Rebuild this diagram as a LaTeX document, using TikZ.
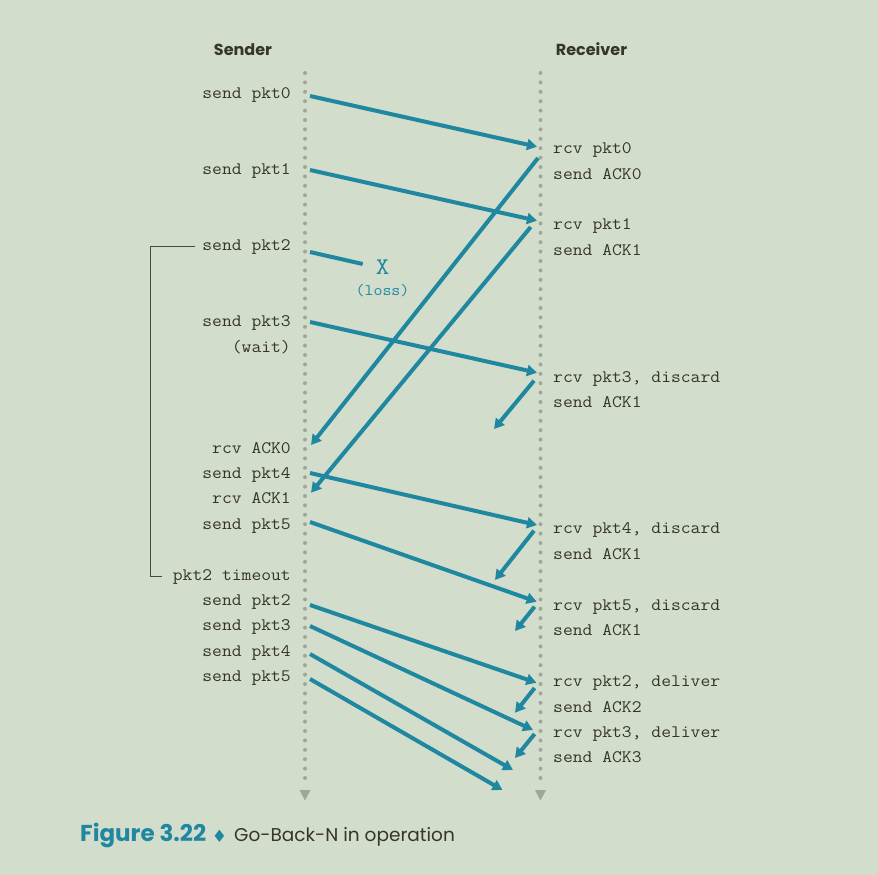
\documentclass[tikz,border=0pt]{standalone}
\usepackage{fontspec}
\setmonofont{Latin Modern Mono}[FakeStretch=1.09]
\newfontfamily\capfont{Poppins}
\newfontfamily\symfont{DejaVu Sans}
\usetikzlibrary{arrows.meta}
\definecolor{bgcol}{RGB}{210,221,203}
\definecolor{msgcol}{RGB}{31,135,160}
\definecolor{dotcol}{RGB}{160,166,155}
\definecolor{txtcol}{RGB}{55,52,42}

\begin{document}
\begin{tikzpicture}[x=1pt, y=-1pt,
    lbl/.style={font=\fontsize{17.5}{19}\ttfamily, text=txtcol, inner sep=0pt},
    sndlbl/.style={lbl, anchor=base east},
    rcvlbl/.style={lbl, anchor=base west},
    head/.style={font=\capfont\bfseries\fontsize{16}{19}\selectfont, text=txtcol,
                 inner sep=0pt, anchor=base},
    timeline/.style={dotcol, line width=4pt, line cap=round, dash pattern=on 0pt off 9.4pt},
    msg/.style={msgcol, line width=4pt, -{Triangle[length=10pt, width=11pt]}},
    bracket/.style={draw=txtcol!90, line width=1.3pt}
  ]
  \useasboundingbox (0,0) rectangle (878,875);
  \fill[bgcol] (0,0) rectangle (878,875);

  % headers and time lines
  \node[head] (sender) at (243,56) {Sender};
  \node[head] (receiver) at (591.5,56) {Receiver};
  \coordinate (stop) at (305,73);
  \coordinate (sbot) at (305,786);
  \coordinate (rtop) at (540.5,73);
  \coordinate (rbot) at (540.5,786);
  \draw[timeline] (stop) -- (sbot);
  \draw[timeline] (rtop) -- (rbot);
  \fill[dotcol] (299.5,790) -- (310.5,790) -- (305,800.5) -- cycle;
  \fill[dotcol] (535,790) -- (546,790) -- (540.5,800.5) -- cycle;

  % sender side
  \node[sndlbl] (snd0) at (291,98) {send pkt0};
  \node[sndlbl] (snd1) at (291,174) {send pkt1};
  \node[sndlbl] (snd2) at (291,250) {send pkt2};
  \node[sndlbl] (snd3) at (291,326) {send pkt3};
  \node[sndlbl] (wait) at (291,352) {(wait)};
  \node[sndlbl] (rack0) at (291,453) {rcv ACK0};
  \node[sndlbl] (snd4) at (291,478) {send pkt4};
  \node[sndlbl] (rack1) at (291,503) {rcv ACK1};
  \node[sndlbl] (snd5) at (291,529) {send pkt5};
  \node[sndlbl] (tmo) at (291,580) {pkt2 timeout};
  \node[sndlbl] (resnd2) at (291,605) {send pkt2};
  \node[sndlbl] (resnd3) at (291,630) {send pkt3};
  \node[sndlbl] (resnd4) at (291,656) {send pkt4};
  \node[sndlbl] (resnd5) at (291,681) {send pkt5};

  % receiver side
  \node[rcvlbl] (rcv0) at (553,153) {rcv pkt0};
  \node[rcvlbl] (sack0) at (553,179) {send ACK0};
  \node[rcvlbl] (rcv1) at (553,229) {rcv pkt1};
  \node[rcvlbl] (sack1) at (553,255) {send ACK1};
  \node[rcvlbl] (rcv3) at (553,382) {rcv pkt3, discard};
  \node[rcvlbl] (sack1a) at (553,407) {send ACK1};
  \node[rcvlbl] (rcv4) at (553,533) {rcv pkt4, discard};
  \node[rcvlbl] (sack1b) at (553,559) {send ACK1};
  \node[rcvlbl] (rcv5) at (553,610) {rcv pkt5, discard};
  \node[rcvlbl] (sack1c) at (553,635) {send ACK1};
  \node[rcvlbl] (rercv2) at (553,686) {rcv pkt2, deliver};
  \node[rcvlbl] (sack2) at (553,712) {send ACK2};
  \node[rcvlbl] (rercv3) at (553,737) {rcv pkt3, deliver};
  \node[rcvlbl] (sack3) at (553,762) {send ACK3};

  % loss
  \node[font=\fontsize{24}{26}\ttfamily, text=msgcol, inner sep=0pt] (lossx) at (382.5,267.5) {X};
  \node[font=\fontsize{16}{18}\ttfamily, text=msgcol, inner sep=0pt] (losstxt) at (382.5,291) {(loss)};

  % end points of the messages
  \coordinate (s0) at (310,96);
  \coordinate (s1) at (310,170);
  \coordinate (s2) at (310,252);
  \coordinate (s3) at (310,322);
  \coordinate (s4) at (310,473);
  \coordinate (s5) at (310,522);
  \coordinate (t2) at (310,605);
  \coordinate (t3) at (310,626);
  \coordinate (t4) at (310,654);
  \coordinate (t5) at (310,679);
  \coordinate (a0) at (311,445);
  \coordinate (a1) at (311,492.7);
  \coordinate (r0) at (537,146.7);
  \coordinate (r1) at (537,220.7);
  \coordinate (r3) at (537,372.7);
  \coordinate (r4) at (537,525);
  \coordinate (r5) at (536.7,601.7);
  \coordinate (q2) at (536.4,682.7);
  \coordinate (q3) at (533,730);
  \coordinate (q4) at (513,770);
  \coordinate (q5) at (502.5,790);
  \coordinate (lost) at (362.7,264);
  \coordinate (k0) at (538,158);
  \coordinate (k1) at (530.7,227);
  \coordinate (k3) at (534,380.7);
  \coordinate (k3e) at (494,429);
  \coordinate (k4) at (534,530.7);
  \coordinate (k4e) at (495,580);
  \coordinate (k5) at (534.6,606.7);
  \coordinate (k5e) at (515,631);
  \coordinate (k6) at (534.6,688);
  \coordinate (k6e) at (515,712.7);
  \coordinate (k7) at (534.6,734);
  \coordinate (k7e) at (515,758);

  % packets
  \draw[msg] (s0) -- (r0);
  \draw[msg] (s1) -- (r1);
  \draw[msgcol, line width=4pt] (s2) -- (lost);
  \draw[msg] (s3) -- (r3);
  \draw[msg] (s4) -- (r4);
  \draw[msg] (s5) -- (r5);
  \draw[msg] (t2) -- (q2);
  \draw[msg] (t3) -- (q3);
  \draw[msg] (t4) -- (q4);
  \draw[msg] (t5) -- (q5);

  % acks
  \draw[msg] (k0) -- (a0);
  \draw[msg] (k1) -- (a1);
  \draw[msg] (k3) -- (k3e);
  \draw[msg] (k4) -- (k4e);
  \draw[msg] (k5) -- (k5e);
  \draw[msg] (k6) -- (k6e);
  \draw[msg] (k7) -- (k7e);

  % timer bracket
  \draw[bracket] ([xshift=-7pt]snd2.west) -| ([xshift=-22pt]tmo.west) -- ([xshift=-11pt]tmo.west);

  % caption
  \node[font=\capfont\bfseries\fontsize{23}{26}\selectfont, text=msgcol, inner sep=0pt,
        anchor=base west] (figno) at (80,841) {Figure 3.22};
  \node[font=\symfont\fontsize{17}{19}\selectfont, text=msgcol, inner sep=0pt] (figdiam) at (219.5,836) {♦};
  \node[font=\capfont\fontsize{18.5}{22}\selectfont, text=txtcol, inner sep=0pt,
        anchor=base west] (figtxt) at (234,841) {Go-Back-N in operation};
\end{tikzpicture}
\end{document}
